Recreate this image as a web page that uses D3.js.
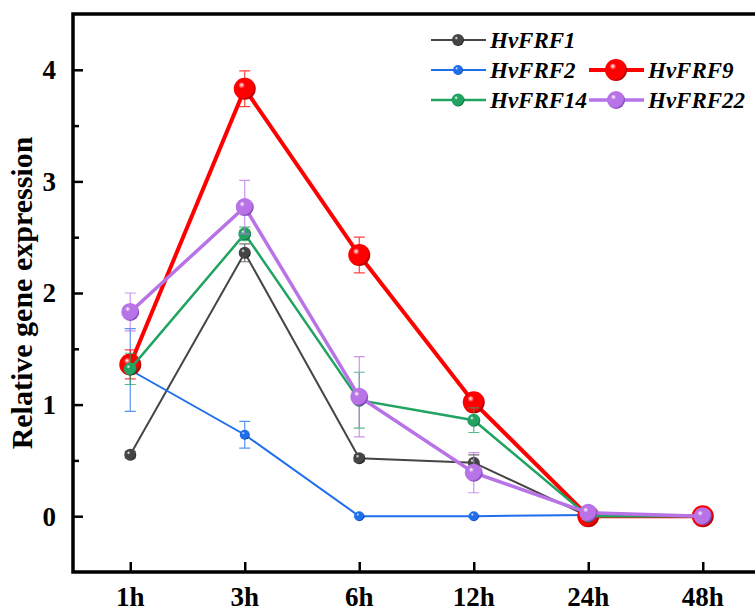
<!DOCTYPE html>
<html>
<head>
<meta charset="utf-8">
<script src="https://cdn.jsdelivr.net/npm/d3@7"></script>
<style>
  body { margin: 0; background: #fff; }
  svg { display: block; }
</style>
</head>
<body>
<script>
// time points and series values
var times = ['1h', '3h', '6h', '12h', '24h', '48h'];
var frf1 = [0.55, 2.36, 0.52, 0.48, 0.00, 0.00];
var frf1_err = [0.03, 0.08, 0.03, 0.07, 0.01, 0.01];
var frf2 = [1.31, 0.73, 0.00, 0.00, 0.01, 0.00];
var frf2_err = [0.37, 0.12, 0.01, 0.01, 0.01, 0.01];
var frf9 = [1.36, 3.83, 2.34, 1.02, 0.00, 0.00];
var frf9_err = [0.13, 0.16, 0.16, 0.05, 0.02, 0.02];
var frf14 = [1.32, 2.53, 1.04, 0.86, 0.00, 0.00];
var frf14_err = [0.14, 0.06, 0.25, 0.11, 0.02, 0.01];
var frf22 = [1.83, 2.77, 1.07, 0.39, 0.03, 0.00];
var frf22_err = [0.17, 0.24, 0.36, 0.18, 0.02, 0.02];
var y_ticks = [0, 1, 2, 3, 4];

// series styling, built from the arrays above
var series = [
  {name: 'HvFRF1',  vals: frf1,  err: frf1_err,  color: '#454545', dark: '#1a1a1a', lw: 2,   r: 6},
  {name: 'HvFRF2',  vals: frf2,  err: frf2_err,  color: '#1f6fec', dark: '#0a3fa0', lw: 2,   r: 5},
  {name: 'HvFRF9',  vals: frf9,  err: frf9_err,  color: '#ff0000', dark: '#b00000', lw: 4,   r: 11},
  {name: 'HvFRF14', vals: frf14, err: frf14_err, color: '#22a362', dark: '#0d6a38', lw: 2.5, r: 6.5},
  {name: 'HvFRF22', vals: frf22, err: frf22_err, color: '#b873e6', dark: '#8044b8', lw: 3.5, r: 9}
];

var width = 755, height = 611;
var left = 73, top_y = 14, bottom = 572, right = 760;
var font = "'Liberation Serif', 'Times New Roman', serif";

var svg = d3.select('body').append('svg')
    .attr('width', width)
    .attr('height', height);

var defs = svg.append('defs');
series.forEach(function(s, i) {
  var g = defs.append('radialGradient')
      .attr('id', 'ball' + i)
      .attr('cx', '40%').attr('cy', '40%').attr('r', '60%')
      .attr('fx', '35%').attr('fy', '32%');
  g.append('stop').attr('offset', '0%').attr('stop-color', '#ffffff');
  g.append('stop').attr('offset', '25%').attr('stop-color', s.color);
  g.append('stop').attr('offset', '85%').attr('stop-color', s.color);
  g.append('stop').attr('offset', '100%').attr('stop-color', s.dark);
});

// scales
var x = d3.scaleLinear().domain([0.5, 6.5]).range([left, right]);
var y = d3.scaleLinear().domain([-0.5, 4.5]).range([bottom, top_y]);
var xi = function(i) { return x(i + 1); };

// axes (ticks point inward)
var yAxis = svg.append('g')
    .attr('transform', 'translate(' + left + ',0)')
    .call(d3.axisRight(y).tickValues(y_ticks).tickSize(10).tickFormat(''));
var yMinor = svg.append('g')
    .attr('transform', 'translate(' + left + ',0)')
    .call(d3.axisRight(y).tickValues(y_ticks.slice(0, 4).map(function(v) { return v + 0.5; })).tickSize(6).tickFormat(''));
var xAxis = svg.append('g')
    .attr('transform', 'translate(0,' + bottom + ')')
    .call(d3.axisTop(x).tickValues(d3.range(1, times.length + 1)).tickSize(10).tickFormat(''));
[yAxis, yMinor, xAxis].forEach(function(a) {
  a.select('.domain').remove();
  a.selectAll('line').attr('stroke', '#000').attr('stroke-width', 2.5);
});

// frame
svg.append('path')
    .attr('d', 'M' + right + ',' + top_y + 'H' + left + 'V' + bottom + 'H' + right)
    .attr('fill', 'none').attr('stroke', '#000').attr('stroke-width', 3.5);

// tick labels
svg.selectAll('.ylab').data(y_ticks).enter().append('text')
    .attr('x', 56).attr('y', function(d) { return y(d); })
    .attr('dy', '0.35em')
    .attr('text-anchor', 'end')
    .style('font-family', font).style('font-weight', 'bold').style('font-size', '27px')
    .text(function(d) { return d; });
svg.selectAll('.xlab').data(times).enter().append('text')
    .attr('x', function(d, i) { return xi(i); }).attr('y', 606)
    .attr('text-anchor', 'middle')
    .style('font-family', font).style('font-weight', 'bold').style('font-size', '27px')
    .text(function(d) { return d; });

// y title
svg.append('text')
    .attr('transform', 'translate(32,' + 293 + ') rotate(-90)')
    .attr('text-anchor', 'middle')
    .style('font-family', font).style('font-weight', 'bold').style('font-size', '30px')
    .text('Relative gene expression');

// series
var line = d3.line().x(function(d, i) { return xi(i); }).y(function(d) { return y(d); });
series.forEach(function(s, k) {
  var g = svg.append('g');
  // error bars
  s.vals.forEach(function(v, i) {
    var cx = xi(i), e = s.err[i];
    g.append('path')
      .attr('d', 'M' + cx + ',' + y(v - e) + 'V' + y(v + e) +
                 'M' + (cx - 5.5) + ',' + y(v + e) + 'H' + (cx + 5.5) +
                 'M' + (cx - 5.5) + ',' + y(v - e) + 'H' + (cx + 5.5))
      .attr('fill', 'none').attr('stroke', s.color).attr('stroke-width', 1.2)
      .attr('opacity', 0.75);
  });
  g.append('path').datum(s.vals)
    .attr('d', line)
    .attr('fill', 'none').attr('stroke', s.color).attr('stroke-width', s.lw);
  g.selectAll('circle').data(s.vals).enter().append('circle')
    .attr('cx', function(d, i) { return xi(i); })
    .attr('cy', function(d) { return y(d); })
    .attr('r', s.r)
    .attr('fill', 'url(#ball' + k + ')');
});

// legend
var legend_pos = [
  {x: 431, y: 40}, {x: 431, y: 70}, {x: 589, y: 70}, {x: 431, y: 100}, {x: 589, y: 100}
];
series.forEach(function(s, k) {
  var p = legend_pos[k];
  var g = svg.append('g').attr('transform', 'translate(' + p.x + ',' + p.y + ')');
  g.append('line').attr('x1', 0).attr('x2', 55).attr('y1', 0).attr('y2', 0)
    .attr('stroke', s.color).attr('stroke-width', s.lw);
  g.append('circle').attr('cx', 27).attr('cy', 0).attr('r', s.r)
    .attr('fill', 'url(#ball' + k + ')');
  g.append('text').attr('x', 59).attr('y', 8)
    .style('font-family', font).style('font-weight', 'bold').style('font-style', 'italic')
    .style('font-size', '23px')
    .text(s.name);
});
</script>
</body>
</html>
